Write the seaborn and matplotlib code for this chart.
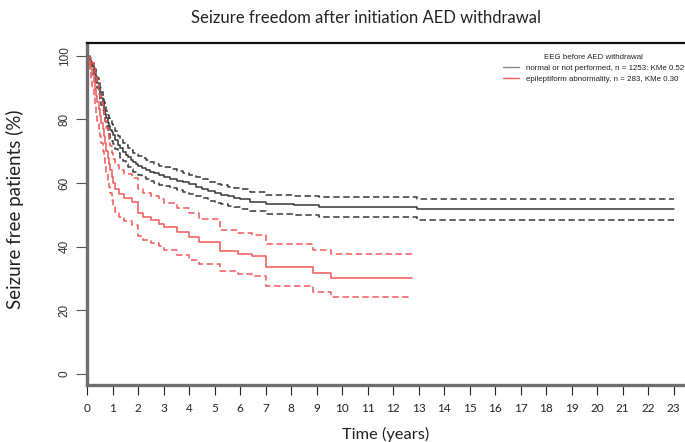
import matplotlib
matplotlib.use("Agg")
import matplotlib.pyplot as plt
from matplotlib.lines import Line2D
import seaborn as sns
import pandas as pd

# Kaplan-Meier estimates (%), with 95% confidence limits; step times in years
normal_t = [0, 0.05, 0.1, 0.15, 0.2, 0.25, 0.3, 0.35, 0.4, 0.45, 0.5, 0.55, 0.6, 0.65,
            0.7, 0.75, 0.8, 0.85, 0.9, 0.95, 1.0, 1.1, 1.2, 1.3, 1.4, 1.5, 1.6, 1.7, 1.8,
            1.9, 2.0, 2.15, 2.3, 2.45, 2.6, 2.8, 3.0, 3.25, 3.5, 3.75, 4.0, 4.25, 4.5,
            4.75, 5.0, 5.25, 5.5, 5.75, 6.0, 6.4, 7.0, 8.1, 9.1, 12.95]
normal_s = [100, 99.5, 98.8, 97.8, 96.8, 95.6, 94.4, 93.0, 91.4, 89.8, 88.2, 86.6, 85.0, 83.4,
            81.8, 80.3, 79.0, 77.8, 76.8, 75.9, 75.0, 73.5, 72.1, 70.9, 69.8, 68.9, 68.1, 67.3, 66.6,
            66.0, 65.4, 64.8, 64.2, 63.6, 63.1, 62.5, 62.0, 61.4, 60.8, 60.2, 59.6, 58.9, 58.2,
            57.5, 56.8, 56.3, 55.8, 55.4, 55.0, 54.2, 53.3, 53.0, 52.5, 52.0]
normal_hi = [100, 99.9, 99.4, 98.6, 97.8, 96.8, 95.7, 94.5, 93.0, 91.5, 90.0, 88.6, 87.0, 85.6,
             84.1, 82.7, 81.4, 80.3, 79.4, 78.5, 77.7, 76.3, 74.9, 73.8, 72.7, 71.9, 71.1, 70.3, 69.6,
             69.0, 68.4, 67.8, 67.2, 66.6, 66.1, 65.5, 65.0, 64.4, 63.8, 63.2, 62.6, 61.9, 61.2,
             60.5, 59.8, 59.3, 58.8, 58.4, 58.0, 57.2, 56.3, 56.0, 55.5, 55.0]
normal_lo = [100, 99.1, 98.2, 97.0, 95.8, 94.4, 93.1, 91.5, 89.8, 88.1, 86.4, 84.6, 82.9, 81.2,
             79.5, 77.9, 76.6, 75.3, 74.2, 73.3, 72.3, 70.7, 69.3, 68.0, 66.9, 65.9, 65.1, 64.3, 63.6,
             63.0, 62.4, 61.8, 61.2, 60.6, 60.1, 59.5, 59.0, 58.4, 57.8, 57.2, 56.6, 55.9, 55.2,
             54.5, 53.8, 53.3, 52.8, 52.4, 52.0, 51.2, 50.3, 50.0, 49.2, 48.5]
normal_end = 23.0

epi_t = [0, 0.05, 0.1, 0.15, 0.2, 0.25, 0.3, 0.35, 0.4, 0.45, 0.5, 0.55, 0.6, 0.65, 0.7,
         0.75, 0.8, 0.85, 0.9, 0.95, 1.0, 1.1, 1.25, 1.45, 1.75, 2.0, 2.2, 2.5, 2.8, 3.0,
         3.5, 4.0, 4.4, 5.2, 5.9, 6.45, 7.02, 8.87, 9.55]
epi_s = [100, 98.8, 97.5, 95.8, 94.0, 91.8, 89.5, 87.5, 85.5, 83.2, 81.0, 79.0, 77.0, 74.8, 72.5,
         70.2, 68.0, 66.0, 64.0, 62.0, 60.0, 58.0, 56.5, 55.3, 54.0, 50.5, 49.3, 48.3, 47.3, 46.3,
         44.6, 43.2, 41.6, 38.8, 37.8, 37.0, 33.6, 31.7, 30.2]
epi_hi = [100, 99.7, 99.4, 98.6, 97.6, 96.2, 94.5, 92.9, 91.2, 89.2, 87.3, 85.5, 83.6, 81.6, 79.5,
          77.4, 75.3, 73.4, 71.5, 69.5, 67.6, 65.7, 64.2, 63.0, 61.7, 58.1, 56.9, 55.9, 54.9, 53.9,
          52.1, 50.6, 48.8, 45.2, 44.4, 43.7, 40.9, 39.0, 37.8]
epi_lo = [100, 97.4, 95.0, 92.5, 89.9, 87.1, 84.2, 81.9, 79.6, 77.1, 74.7, 72.5, 70.2, 67.8, 65.4,
          63.1, 60.8, 58.8, 56.8, 54.8, 52.8, 50.8, 49.3, 48.1, 46.8, 43.3, 42.1, 41.1, 40.1, 39.1,
          37.4, 36.0, 34.5, 32.5, 31.6, 30.8, 27.6, 25.9, 24.3]
epi_end = 12.75

x_ticks = list(range(0, 24))
y_ticks = [0, 20, 40, 60, 80, 100]

legend_title = "EEG before AED withdrawal"
label_normal = "normal or not performed, n = 1253: KMe 0.52"
label_epi = "epileptiform abnormality, n = 283, KMe 0.30"

col_normal = "#383838"
col_epi = "#f25858"

sns.set_theme(style="white")
plt.rcParams["font.family"] = ["Lato", "DejaVu Sans"]

W, H = 685, 442
fig = plt.figure(figsize=(W / 100, H / 100), dpi=100)
ax = fig.add_axes([87.3 / W, 1 - 385 / H, 1 - 87.3 / W + 0.002, (385 - 43.3) / H])


def step_frame(t, v, end):
    return pd.DataFrame({"time": list(t) + [end], "pct": list(v) + [v[-1]]})


for t, s, hi, lo, end, col in [
    (normal_t, normal_s, normal_hi, normal_lo, normal_end, col_normal),
    (epi_t, epi_s, epi_hi, epi_lo, epi_end, col_epi),
]:
    for vals, dashed in [(hi, True), (lo, True), (s, False)]:
        sns.lineplot(data=step_frame(t, vals, end), x="time", y="pct", ax=ax,
                     drawstyle="steps-post", color=col, lw=1.1,
                     linestyle=(0, (4.2, 2.3)) if dashed else "-",
                     estimator=None, legend=False)

ax.set_xlim(0, 23.5)
ax.set_ylim(-3.4, 103.9)
ax.set_xticks(x_ticks)
ax.set_yticks(y_ticks)
ax.set_xticklabels([str(v) for v in x_ticks], fontsize=8.5, family="Lato")
ax.set_yticklabels([str(v) for v in y_ticks], fontsize=8.5, rotation=90,
                   va="center", family=["Liberation Sans", "DejaVu Sans"])
ax.tick_params(axis="x", direction="out", length=7, width=0.8, color="#222222",
               pad=6, bottom=True, labelcolor="#222222")
ax.tick_params(axis="y", direction="out", length=8, width=0.8, color="#555555",
               pad=4, left=True, labelcolor="#333333")

for side in ["left", "bottom"]:
    ax.spines[side].set_color("#6e6e6e")
    ax.spines[side].set_linewidth(2.4)
ax.spines["top"].set_color("#111111")
ax.spines["top"].set_linewidth(1.6)
ax.spines["right"].set_visible(False)

ax.set_xlabel("")
ax.set_ylabel("")
fig.text(386 / W, 1 - 434 / H, "Time (years)", ha="center", va="center",
         fontsize=11.8, color="#222222")
fig.text(15 / W, 1 - 209 / H, "Seizure free patients (%)", ha="center", va="center",
         rotation=90, fontsize=13.5, color="#222222")
fig.text(366 / W, 1 - 18 / H, "Seizure freedom after initiation AED withdrawal",
         ha="center", va="center", fontsize=12, color="#222222")

handles = [Line2D([], [], color="#8a8a8a", lw=1.0),
           Line2D([], [], color=col_epi, lw=1.0)]
leg = ax.legend(handles, [label_normal, label_epi], title=legend_title,
                frameon=False, loc="upper left",
                bbox_to_anchor=(497 / W, 1 - 48 / H), bbox_transform=fig.transFigure,
                prop={"family": ["Liberation Sans", "DejaVu Sans"], "size": 5.7},
                title_fontproperties={"family": ["Liberation Sans", "DejaVu Sans"], "size": 5.7},
                handlelength=2.1, handletextpad=0.9, labelspacing=0.45,
                borderpad=0.2)
for txt in leg.get_texts():
    txt.set_color("#222222")

fig.savefig("out.png", dpi=100)
